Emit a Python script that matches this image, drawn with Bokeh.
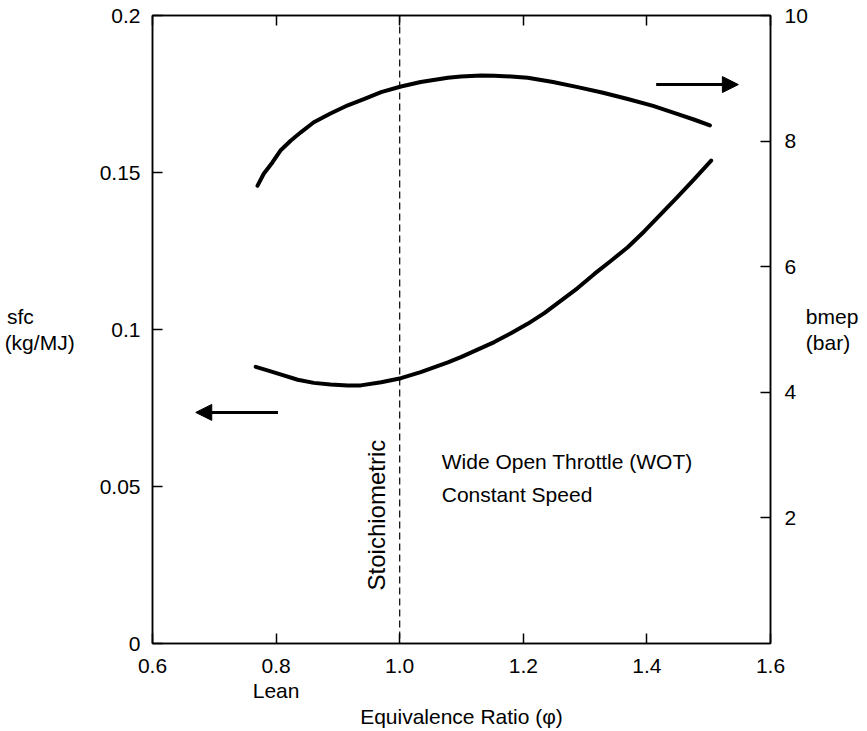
import numpy as np
from bokeh.plotting import figure
from bokeh.models import (Range1d, LinearAxis, FixedTicker, CustomJSTickFormatter,
                          Span, Arrow, NormalHead, Label)
from bokeh.embed import file_html
from bokeh.resources import INLINE

# ---- data ----
phi_bmep = [0.770, 0.780, 0.794, 0.807, 0.824, 0.840, 0.861, 0.888, 0.916, 0.942,
            0.970, 1.002, 1.034, 1.078, 1.099, 1.132, 1.153, 1.180, 1.207, 1.248,
            1.288, 1.329, 1.369, 1.410, 1.450, 1.477, 1.502]
bmep = [7.29, 7.48, 7.66, 7.85, 8.01, 8.14, 8.30, 8.44, 8.57, 8.67,
        8.78, 8.87, 8.94, 9.01, 9.03, 9.045, 9.04, 9.03, 9.01, 8.94,
        8.86, 8.77, 8.67, 8.56, 8.43, 8.34, 8.25]

phi_sfc = [0.767, 0.786, 0.807, 0.835, 0.861, 0.888, 0.916, 0.937, 0.970, 1.002,
           1.034, 1.078, 1.099, 1.126, 1.153, 1.180, 1.207, 1.234, 1.261, 1.288,
           1.315, 1.342, 1.369, 1.396, 1.423, 1.450, 1.477, 1.504]
sfc = [0.0881, 0.0870, 0.0857, 0.0840, 0.0830, 0.0825, 0.0822, 0.0822, 0.0832, 0.0845,
       0.0864, 0.0895, 0.0912, 0.0936, 0.0960, 0.0988, 0.1018, 0.1052, 0.1092, 0.1132,
       0.1177, 0.1219, 0.1262, 0.1313, 0.1368, 0.1423, 0.1480, 0.1538]

x_ticks = [0.6, 0.8, 1.0, 1.2, 1.4, 1.6]
x_tick_labels = ["0.6", "0.8\nLean", "1.0", "1.2", "1.4", "1.6"]
sfc_ticks = [0, 0.05, 0.1, 0.15, 0.2]
sfc_tick_labels = ["0", "0.05", "0.1", "0.15", "0.2"]
bmep_ticks = [2, 4, 6, 8, 10]

stoich_phi = 1.0

# arrows: (x_start, x_end, y)
bmep_arrow = (1.415, 1.548, 8.90)
sfc_arrow = (0.803, 0.670, 0.0736)

FONT = "Liberation Sans"
FS = "21px"
NB = "\u00a0"

p = figure(width=867, height=731, x_range=Range1d(0.6, 1.6), y_range=Range1d(0, 0.2),
           output_backend="svg", toolbar_location=None,
           min_border_left=152, min_border_right=97, min_border_top=15, min_border_bottom=88)
p.extra_y_ranges = {"bmep": Range1d(0, 10)}
p.grid.visible = False
p.outline_line_color = "black"
p.outline_line_width = 1.5
p.background_fill_color = "white"
p.border_fill_color = "white"


def style_axis(ax, standoff):
    ax.major_tick_in = 10
    ax.major_tick_out = 0
    ax.minor_tick_line_color = None
    ax.axis_line_color = "black"
    ax.axis_line_width = 1.5
    ax.major_tick_line_color = "black"
    ax.major_tick_line_width = 1.5
    ax.major_label_text_font = FONT
    ax.major_label_text_font_size = FS
    ax.major_label_text_color = "black"
    ax.major_label_standoff = standoff
    ax.axis_label_text_font = FONT
    ax.axis_label_text_font_size = FS
    ax.axis_label_text_font_style = "normal"
    ax.axis_label_text_color = "black"
    ax.axis_label_text_line_height = 1.1


xa = p.xaxis[0]
xa.ticker = FixedTicker(ticks=x_ticks)
xa.major_label_overrides = dict(zip(x_ticks, x_tick_labels))
xa.axis_label = "Equivalence Ratio (\u03c6)"
style_axis(xa, 10)
xa.major_label_text_line_height = 1.1
xa.axis_label_standoff = 0

ya = p.yaxis[0]
ya.ticker = FixedTicker(ticks=sfc_ticks)
ya.major_label_overrides = dict(zip(sfc_ticks, sfc_tick_labels))
style_axis(ya, 12)
ya.axis_label = "sfc" + NB * 7 + "\n(kg/MJ)"
ya.axis_label_orientation = "horizontal"
ya.axis_label_standoff = 22

ra = LinearAxis(y_range_name="bmep", ticker=FixedTicker(ticks=bmep_ticks))
style_axis(ra, 14)
ra.axis_label = "bmep\n(bar)"
ra.axis_label_orientation = "horizontal"
ra.axis_label_text_align = "left"
ra.axis_label_standoff = -5
p.add_layout(ra, "right")

ta = LinearAxis(ticker=FixedTicker(ticks=x_ticks),
                formatter=CustomJSTickFormatter(code="return ''"))
style_axis(ta, 0)
p.add_layout(ta, "above")

# curves
p.line(phi_bmep, bmep, y_range_name="bmep", line_color="black", line_width=4,
       line_join="round", line_cap="round")
p.line(phi_sfc, sfc, line_color="black", line_width=4, line_join="round", line_cap="round")

# stoichiometric line
p.add_layout(Span(location=stoich_phi, dimension="height", line_color="black",
                  line_width=1.2, line_dash="7 4"))

# arrows
p.add_layout(Arrow(end=NormalHead(size=16, fill_color="black", line_color="black"),
                   x_start=bmep_arrow[0], x_end=bmep_arrow[1],
                   y_start=bmep_arrow[2], y_end=bmep_arrow[2],
                   y_range_name="bmep", line_color="black", line_width=3))
p.add_layout(Arrow(end=NormalHead(size=16, fill_color="black", line_color="black"),
                   x_start=sfc_arrow[0], x_end=sfc_arrow[1],
                   y_start=sfc_arrow[2], y_end=sfc_arrow[2],
                   line_color="black", line_width=3))


def lab(x, y, text, size=FS, align="left", baseline="middle", angle=0.0):
    p.add_layout(Label(x=x, y=y, text=text, text_font=FONT, text_font_size=size,
                       text_color="black", text_align=align, text_baseline=baseline,
                       angle=angle))


lab(1.068, 0.0579, "Wide Open Throttle (WOT)", baseline="alphabetic")
lab(1.068, 0.0474, "Constant Speed", baseline="alphabetic")
lab(0.963, 0.0169, "Stoichiometric", size="24px", angle=np.pi / 2)

open("out.html", "w").write(file_html(p, INLINE))
